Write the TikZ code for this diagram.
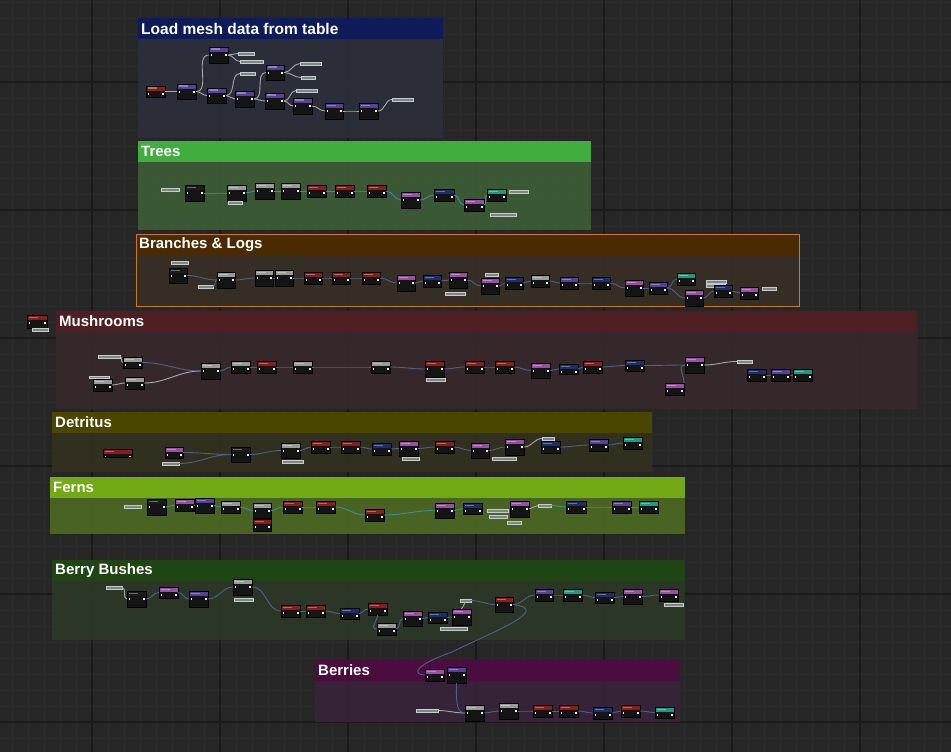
\documentclass[tikz,border=0pt]{standalone}
\usepackage{fontspec}
\setmainfont{Liberation Sans}
\definecolor{bg}{HTML}{262626}
\definecolor{gminor}{HTML}{2B2B2B}
\definecolor{gmajor}{HTML}{1A1A1A}
\definecolor{nodebg}{HTML}{141414}
\definecolor{cred}{HTML}{8C1C1C}
\definecolor{cpurp}{HTML}{56409A}
\definecolor{cpink}{HTML}{9A4EA8}
\definecolor{cnavy}{HTML}{1D2D6E}
\definecolor{cgray}{HTML}{9A9A9A}
\definecolor{cteal}{HTML}{1D9A80}
\definecolor{cblk}{HTML}{1C1C1C}
\definecolor{pillfg}{HTML}{7D8585}
\definecolor{pillbd}{HTML}{C4CCCC}
\definecolor{wexc}{HTML}{A8A8A8}
\definecolor{wblu}{HTML}{4D5F8F}
\definecolor{wtea}{HTML}{3A8CA6}
% comment colours
\definecolor{tA}{HTML}{0F1A58}\definecolor{bA}{HTML}{2C2F3C}
\definecolor{tT}{HTML}{42AD3F}\definecolor{bT}{HTML}{3D5E36}
\definecolor{tB}{HTML}{4A2A02}\definecolor{bB}{HTML}{382E25}\definecolor{oB}{HTML}{C8782A}
\definecolor{tM}{HTML}{4E1F22}\definecolor{bM}{HTML}{38292B}
\definecolor{tD}{HTML}{4A4600}\definecolor{bD}{HTML}{33321F}
\definecolor{tF}{HTML}{72AA16}\definecolor{bF}{HTML}{4D6A22}
\definecolor{tE}{HTML}{1F4515}\definecolor{bE}{HTML}{2D3828}
\definecolor{tR}{HTML}{4B0D40}\definecolor{bR}{HTML}{38233A}
\tikzset{
 bpn/.style={draw=black, line width=0.4pt, fill=nodebg, inner sep=0pt, outer sep=0pt,
   path picture={
     \fill[#1] (path picture bounding box.north west) rectangle ([yshift=-5pt]path picture bounding box.north east);
     \fill[white, opacity=0.35] ([xshift=2pt,yshift=-1.5pt]path picture bounding box.north west) rectangle ([xshift=11pt,yshift=-3pt]path picture bounding box.north west);
     \fill[white!85] ([xshift=1.5pt,yshift=-7pt]path picture bounding box.north west) rectangle +(1.6pt,-1.6pt);
     \fill[white!85] ([xshift=-3.1pt,yshift=-7pt]path picture bounding box.north east) rectangle +(1.6pt,-1.6pt);
   }},
 pill/.style={draw=pillbd, fill=pillfg, inner sep=0pt, outer sep=0pt, line width=0.5pt},
 wex/.style={draw=wexc, line width=0.9pt},
 wbl/.style={draw=wblu, line width=0.9pt},
 wtl/.style={draw=wtea, line width=0.9pt},
 ttl/.style={text=white, font=\bfseries\fontsize{15}{16}\selectfont, anchor=west, inner sep=0pt},
}
\newcommand\bp[6]{\node[bpn=#6, minimum width={(#4-#2)*1pt}, minimum height={(#5-#3)*1pt}] (#1) at ({(#2+#4)/2},{(#3+#5)/2}) {};}
\newcommand\pl[5]{\node[pill, minimum width={(#4-#2)*1pt}, minimum height={(#5-#3)*1pt}] (#1) at ({(#2+#4)/2},{(#3+#5)/2}) {};}
\newcommand\cmt[8]{%
 \fill[#7, fill opacity=0.9] (#2,#3) rectangle (#4,#5);
 \fill[#6] (#2,#3) rectangle (#4,{#3+21});
 \node[ttl] (#1) at ({#2+3},{#3+10.5}) {#8};}
\newcommand\bpwire[3]{\draw[#1] (#2.east) to[out=0,in=180] (#3.west);}
\begin{document}
\begin{tikzpicture}[x=1pt,y=-1pt]
\useasboundingbox (0,0) rectangle (951,752);
\fill[bg] (0,0) rectangle (951,752);
\foreach \x in {12,28,...,950} \draw[gminor, line width=0.6pt] (\x,0) -- (\x,752);
\foreach \y in {2,18,...,752} \draw[gminor, line width=0.6pt] (0,\y) -- (951,\y);
\foreach \x in {92,220,...,950} \draw[gmajor, line width=1.2pt] (\x,0) -- (\x,752);
\foreach \y in {82,210,...,752} \draw[gmajor, line width=1.2pt] (0,\y) -- (951,\y);

% ---------- comments ----------
\cmt{cA}{138}{18}{443}{138}{tA}{bA}{\fontsize{15.5}{16}\selectfont Load mesh data from table}
\cmt{cT}{138}{141}{591}{230}{tT}{bT}{Trees}
\cmt{cB}{136}{234}{799}{306}{tB}{bB}{Branches \& Logs}
\draw[oB, line width=0.9pt] (136,234) rectangle (799,306);
\cmt{cM}{56}{311}{918}{409}{tM}{bM}{Mushrooms}
\cmt{cD}{52}{412}{652}{472}{tD}{bD}{Detritus}
\cmt{cF}{50}{477}{685}{534}{tF}{bF}{Ferns}
\cmt{cE}{52}{560}{685}{640}{tE}{bE}{Berry Bushes}
\cmt{cR}{315}{660}{680}{722}{tR}{bR}{Berries}

% ---------- Load mesh data ----------
\bp{a0}{146}{86}{165}{97}{cred}
\bp{a1}{177}{84}{196}{99}{cpurp}
\bp{a2}{209}{47}{228}{63}{cpurp}
\bp{a3}{207}{88}{226}{103}{cpurp}
\bp{a4}{235}{91}{254}{107}{cpurp}
\bp{a5}{266}{65}{284}{80}{cpurp}
\bp{a6}{265}{93}{284}{109}{cpurp}
\bp{a7}{293}{98}{312}{114}{cpurp}
\bp{a8}{325}{103}{343}{119}{cpurp}
\bp{a9}{359}{103}{378}{119}{cpurp}
\pl{ap1}{238}{52}{254}{55}\pl{ap2}{240}{60}{263}{63}\pl{ap3}{240}{72}{255}{75}
\pl{ap4}{300}{62}{321}{65}\pl{ap5}{301}{76}{315}{79}\pl{ap6}{296}{89}{317}{92}
\pl{ap7}{392}{98}{413}{101}
\foreach \a/\b in {a0/a1,a1/a3,a3/a4,a4/a6,a6/a7,a7/a8,a8/a9,a1/a2,a3/ap3,a4/a5,a2/ap1,a2/ap2,a5/ap4,a5/ap5,a6/ap6,a9/ap7} {\bpwire{wex}{\a}{\b}}

% ---------- Trees ----------
\pl{tp1}{161}{188}{179}{191}
\bp{t1}{185}{185}{204}{201}{cblk}
\bp{t2}{227}{185}{246}{201}{cgray}
\pl{tp2}{228}{201}{242}{204}
\bp{t3}{255}{183}{274}{199}{cgray}
\bp{t4}{281}{183}{300}{199}{cgray}
\bp{t5}{307}{185}{326}{197}{cred}
\bp{t6}{335}{185}{354}{197}{cred}
\bp{t7}{367}{185}{386}{197}{cred}
\bp{t8}{401}{192}{420}{208}{cpink}
\bp{t9}{434}{189}{454}{201}{cnavy}
\bp{t10}{464}{199}{484}{211}{cpink}
\bp{t11}{487}{189}{506}{201}{cteal}
\pl{tp3}{509}{190}{528}{193}\pl{tp4}{490}{213}{516}{216}
\foreach \a/\b in {t1/t2,t2/t3,t3/t4,t4/t5,t5/t6,t6/t7,t7/t8,t8/t9,t9/t10,t10/t11} {\bpwire{wtl}{\a}{\b}}

% ---------- Branches & Logs ----------
\pl{bp1}{171}{261}{188}{264}
\bp{b1}{169}{268}{187}{283}{cblk}
\pl{bp2}{198}{285}{213}{288}
\bp{b2}{217}{272}{235}{288}{cgray}
\bp{b3}{255}{270}{273}{286}{cgray}
\bp{b4}{275}{270}{293}{286}{cgray}
\bp{b5}{304}{272}{322}{284}{cred}
\bp{b6}{332}{272}{350}{284}{cred}
\bp{b7}{362}{272}{380}{284}{cred}
\bp{b8}{397}{275}{415}{291}{cpink}
\bp{b9}{423}{275}{441}{287}{cnavy}
\bp{b10}{449}{272}{467}{288}{cpink}
\pl{bp3}{445}{292}{465}{295}
\pl{bp4}{485}{273}{498}{276}
\bp{b11}{481}{278}{499}{294}{cpink}
\bp{b12}{505}{277}{523}{289}{cnavy}
\bp{b13}{531}{275}{549}{287}{cgray}
\bp{b14}{560}{277}{578}{289}{cpurp}
\bp{b15}{592}{277}{610}{289}{cnavy}
\bp{b16}{625}{280}{643}{296}{cpink}
\bp{b17}{649}{282}{667}{294}{cpurp}
\bp{b18}{677}{273}{695}{285}{cteal}
\bp{b19}{685}{290}{703}{306}{cpink}
\pl{bp5}{706}{280}{726}{283}\pl{bp6}{706}{284}{725}{287}
\bp{b20}{714}{285}{732}{297}{cnavy}
\bp{b21}{740}{287}{758}{299}{cpink}
\pl{bp7}{762}{287}{776}{290}
\foreach \a/\b in {b1/b2,bp2/b2,b2/b3,b3/b4,b4/b5,b5/b6,b6/b7,b7/b8,b8/b9,b9/b10,b10/b11,b11/b12,b12/b13,b13/b14,b14/b15,b15/b16,b16/b17,b17/b18,b17/b19,b19/b20,b20/b21} {\bpwire{wbl}{\a}{\b}}

% ---------- Mushrooms ----------
\bp{mr0}{27}{315}{47}{328}{cred}
\pl{mp0}{32}{328}{48}{331}
\pl{mp1}{98}{355}{120}{358}
\bp{m1}{123}{357}{142}{368}{cgray}
\pl{mp2}{89}{376}{109}{378}
\bp{m2}{93}{379}{112}{391}{cgray}
\bp{m3}{125}{377}{144}{389}{cgray}
\bp{m4}{201}{363}{220}{379}{cgray}
\bp{m5}{231}{361}{250}{373}{cgray}
\bp{m6}{257}{361}{276}{373}{cred}
\bp{m7}{293}{361}{312}{373}{cgray}
\bp{m8}{371}{361}{390}{373}{cgray}
\bp{m9}{425}{361}{444}{377}{cred}
\pl{mp3}{426}{378}{445}{381}
\bp{m10}{465}{361}{484}{373}{cred}
\bp{m11}{495}{361}{514}{373}{cred}
\bp{m12}{531}{363}{550}{378}{cpink}
\bp{m13}{559}{364}{578}{374}{cnavy}
\bp{m14}{583}{361}{602}{373}{cred}
\bp{m15}{625}{360}{644}{371}{cnavy}
\bp{m16}{685}{357}{704}{373}{cpink}
\bp{m17}{665}{383}{684}{395}{cpink}
\pl{mp4}{737}{360}{752}{363}
\bp{m18}{747}{369}{766}{381}{cnavy}
\bp{m19}{771}{369}{790}{381}{cpurp}
\bp{m20}{793}{369}{812}{381}{cteal}
\foreach \a/\b in {mp1/m1,m2/m3,m3/m4,m16/mp4} {\bpwire{wex}{\a}{\b}}
\foreach \a/\b in {m1/m4,m4/m5,m5/m6,m6/m7,m7/m8,m8/m9,m9/m10,m10/m11,m11/m12,m12/m13,m13/m14,m14/m15,m15/m16,m18/m19,m19/m20} {\bpwire{wbl}{\a}{\b}}
\draw[wbl] (m17.north east) .. controls +(0,-8) and +(-8,0) .. (m16.west);

% ---------- Detritus ----------
\bp{d0}{103}{449}{132}{457}{cred}
\bp{d1}{165}{447}{183}{458}{cpink}
\pl{dp1}{162}{462}{179}{465}
\bp{d2}{231}{447}{250}{462}{cblk}
\bp{d3}{281}{443}{300}{458}{cgray}
\pl{dp2}{282}{460}{303}{463}
\bp{d4}{311}{441}{330}{453}{cred}
\bp{d5}{341}{441}{360}{453}{cred}
\bp{d6}{372}{443}{391}{455}{cnavy}
\bp{d7}{399}{441}{418}{456}{cpink}
\pl{dp3}{402}{457}{419}{460}
\bp{d8}{435}{441}{454}{453}{cred}
\bp{d9}{471}{443}{489}{458}{cpink}
\bp{d10}{505}{439}{524}{455}{cpink}
\pl{dp4}{492}{457}{516}{460}
\pl{dp5}{542}{437}{554}{440}
\bp{d11}{541}{441}{560}{453}{cnavy}
\bp{d12}{589}{439}{608}{451}{cpurp}
\bp{d13}{623}{437}{642}{449}{cteal}
\foreach \a/\b in {d1/d2,dp1/d2,d2/d3,d3/d4,d4/d5,d5/d6,d6/d7,d7/d8,d8/d9,d9/d10,d11/d12,d12/d13} {\bpwire{wbl}{\a}{\b}}
\bpwire{wex}{d10}{dp5}

% ---------- Ferns ----------
\pl{fp1}{124}{505}{141}{508}
\bp{f1}{147}{499}{166}{515}{cblk}
\bp{f2}{175}{499}{194}{511}{cpink}
\bp{f3}{195}{498}{214}{513}{cpurp}
\bp{f4}{221}{501}{240}{513}{cgray}
\bp{f5}{253}{503}{271}{518}{cgray}
\bp{f6}{253}{519}{271}{531}{cred}
\bp{f7}{283}{501}{302}{513}{cred}
\bp{f8}{316}{501}{335}{513}{cred}
\bp{f9}{365}{509}{384}{521}{cred}
\bp{f10}{435}{503}{454}{518}{cpink}
\bp{f11}{463}{503}{482}{514}{cnavy}
\pl{fp2}{487}{509}{508}{512}\pl{fp3}{489}{515}{507}{518}
\bp{f12}{510}{501}{529}{517}{cpink}
\pl{fp4}{507}{521}{521}{524}
\pl{fp5}{538}{504}{551}{507}
\bp{f13}{566}{501}{586}{513}{cnavy}
\bp{f14}{612}{501}{631}{513}{cpurp}
\bp{f15}{639}{501}{658}{513}{cteal}
\foreach \a/\b in {f1/f2,f2/f3,f3/f4,f4/f5,f5/f7,f7/f8,f8/f9,f9/f10,f10/f11,fp5/f13,f13/f14,f14/f15} {\bpwire{wtl}{\a}{\b}}
\bpwire{wex}{f12}{fp5}

% ---------- Berry Bushes ----------
\pl{ep1}{106}{586}{122}{589}
\bp{e1}{127}{591}{146}{607}{cblk}
\bp{e2}{159}{587}{178}{598}{cpink}
\bp{e3}{189}{591}{208}{607}{cpurp}
\bp{e4}{233}{579}{252}{595}{cgray}
\pl{ep2}{234}{598}{253}{601}
\bp{e5}{281}{605}{300}{617}{cred}
\bp{e6}{306}{605}{325}{617}{cred}
\bp{e7}{340}{608}{359}{619}{cnavy}
\bp{e8}{368}{603}{387}{615}{cred}
\bp{e9}{377}{623}{396}{635}{cgray}
\bp{e10}{403}{611}{422}{626}{cpink}
\bp{e11}{428}{612}{447}{623}{cnavy}
\bp{e12}{452}{609}{471}{625}{cpink}
\pl{ep3}{440}{627}{467}{630}
\pl{ep4}{460}{599}{471}{602}
\bp{e13}{495}{597}{513}{612}{cred}
\bp{e14}{535}{589}{553}{601}{cpurp}
\bp{e15}{563}{589}{582}{601}{cteal}
\bp{e16}{595}{592}{614}{603}{cnavy}
\bp{e17}{623}{589}{642}{604}{cpink}
\bp{e18}{659}{589}{678}{601}{cpink}
\pl{ep5}{664}{603}{683}{606}
\foreach \a/\b in {e1/e2,e2/e3,e3/e4,e4/e5,e5/e6,e6/e7,e7/e8,e9/e10,e10/e11,e11/e12,ep4/e13,e13/e14,e14/e15,e15/e16,e16/e17,e17/e18} {\bpwire{wbl}{\a}{\b}}
\bpwire{wex}{ep1}{e1}
\draw[wbl] (e8.south) .. controls +(0,6) and +(-8,0) .. (e9.west);
\draw[wex] (ep4.south) -- (e12.north);

% ---------- Berries ----------
\bp{r1}{425}{669}{444}{681}{cpink}
\bp{r2}{447}{667}{466}{683}{cpurp}
\pl{rp1}{416}{709}{438}{712}
\bp{r3}{465}{705}{484}{721}{cgray}
\bp{r4}{499}{703}{518}{719}{cgray}
\bp{r5}{533}{705}{552}{717}{cred}
\bp{r6}{559}{705}{578}{717}{cred}
\bp{r7}{593}{707}{612}{719}{cnavy}
\bp{r8}{621}{705}{640}{717}{cred}
\bp{r9}{655}{707}{674}{718}{cteal}
\bpwire{wex}{rp1}{r3}
\foreach \a/\b in {r3/r4,r4/r5,r5/r6,r6/r7,r7/r8,r8/r9} {\bpwire{wbl}{\a}{\b}}
\draw[wbl] (r2.south) .. controls +(0,14) and +(-10,0) .. (r3.west);
\coordinate (lw) at (452,652);
\draw[wbl] (e13.east) .. controls +(40,5) and +(40,-20) .. (lw) .. controls +(-40,14) and +(-12,0) .. (r1.west);
\end{tikzpicture}
\end{document}
